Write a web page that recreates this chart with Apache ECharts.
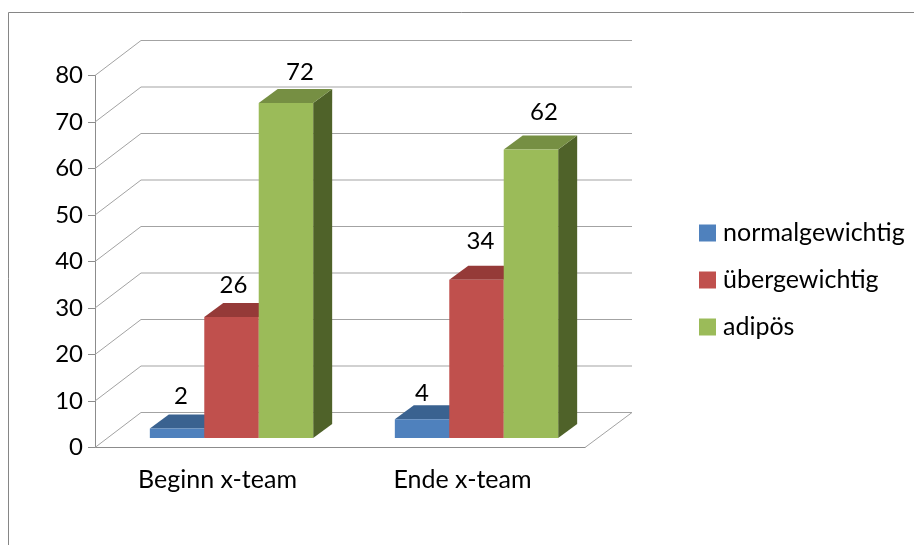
<!DOCTYPE html>
<html>
<head>
<meta charset="utf-8">
<style>html,body{margin:0;padding:0;background:#fff}#c{width:914px;height:545px}</style>
<script src="https://cdn.jsdelivr.net/npm/echarts@6/dist/echarts.min.js"></script>
</head>
<body>
<div id="c"></div>
<script>
var categories = ['Beginn x-team', 'Ende x-team'];
var normalgewichtig = [2, 4];
var uebergewichtig = [26, 34];
var adipoes = [72, 62];
var seriesNames = ['normalgewichtig', 'übergewichtig', 'adipös'];
var yTicks = [0, 10, 20, 30, 40, 50, 60, 70, 80];

var FONT = 'Lato, Carlito, Calibri, sans-serif';
var FS = 25, FS_NUM = 24;
var GRID_COLOR = '#a3a3a3', AXIS_COLOR = '#8c8c8c';
var WALL_DX = 47, WALL_DY = 35;
var FRONT_DX = 14, FRONT_DY = 9.6;
var BAR_DX = 19, BAR_DY = 14;
var palette = [
  {front: '#4F81BD', top: '#3A6290', side: '#2F4F75'},
  {front: '#C0504D', top: '#953A38', side: '#6F2B29'},
  {front: '#9BBB59', top: '#768F43', side: '#4F6229'}
];
// manual nudges of the data labels, by series then category
var labelNudge = [
  [[4, -32], [0, -26]],
  [[2, -32], [4, -39]],
  [[14, -31], [13, -37]]
];

function barSeries(name, values, k) {
  return {
    type: 'custom',
    name: name,
    coordinateSystem: 'cartesian2d',
    silent: true,
    z: 5 + k,
    itemStyle: {color: palette[k].front},
    encode: {x: 0, y: 1},
    data: values.map(function (v, i) { return [i, v]; }),
    renderItem: function (params, api) {
      var cat = api.value(0), val = api.value(1);
      var band = api.size([1, 0])[0];
      var w = band / 4.5;
      var base = api.coord([cat, 0]);
      var topPt = api.coord([cat, val]);
      var x0 = base[0] - 1.5 * w + k * w + FRONT_DX;
      var x1 = x0 + w;
      var y0 = base[1] - FRONT_DY;
      var y1 = topPt[1] - FRONT_DY;
      var c = palette[k];
      var n = labelNudge[k][params.dataIndex];
      return {
        type: 'group',
        children: [
          {type: 'polygon', shape: {points: [[x1, y1], [x1 + BAR_DX, y1 - BAR_DY], [x1 + BAR_DX, y0 - BAR_DY], [x1, y0]]}, style: {fill: c.side}},
          {type: 'polygon', shape: {points: [[x0, y1], [x0 + BAR_DX, y1 - BAR_DY], [x1 + BAR_DX, y1 - BAR_DY], [x1, y1]]}, style: {fill: c.top}},
          {type: 'rect', shape: {x: x0, y: y1, width: w, height: y0 - y1}, style: {fill: c.front}},
          {type: 'text', z2: 50, style: {text: String(val), x: (x0 + x1) / 2 + n[0], y: y1 + n[1], fill: '#000', font: FS_NUM + 'px ' + FONT, textAlign: 'center', textVerticalAlign: 'middle'}}
        ]
      };
    }
  };
}

var wallSeries = {
  type: 'custom',
  coordinateSystem: 'cartesian2d',
  silent: true,
  z: 1,
  encode: {y: 0},
  data: yTicks.map(function (v) { return [v]; }),
  renderItem: function (params, api) {
    var v = api.value(0);
    var rect = params.coordSys;
    var y = api.coord([0, v])[1];
    var left = rect.x, right = rect.x + rect.width;
    var pts = [[left, y], [left + WALL_DX - 1, y - WALL_DY], [right + WALL_DX, y - WALL_DY]];
    if (v === 0) { pts.push([right, y]); }
    return {type: 'polyline', shape: {points: pts}, style: {fill: 'none', stroke: GRID_COLOR, lineWidth: 1}};
  }
};

var chart = echarts.init(document.getElementById('c'), null, {renderer: 'canvas'});
chart.setOption({
  animation: false,
  backgroundColor: '#fff',
  grid: {left: 95, top: 75.5, width: 490, height: 372},
  legend: {
    orient: 'vertical',
    left: 699,
    top: 218,
    padding: 0,
    itemWidth: 17,
    itemHeight: 17,
    itemGap: 17,
    icon: 'rect',
    selectedMode: false,
    data: seriesNames,
    textStyle: {fontFamily: FONT, fontSize: FS, color: '#000', lineHeight: 30, padding: [0, 0, 0, 2]}
  },
  xAxis: {
    type: 'category',
    data: categories,
    axisLine: {lineStyle: {color: AXIS_COLOR, width: 1}},
    axisTick: {length: 7, lineStyle: {color: AXIS_COLOR}},
    axisLabel: {color: '#000', fontFamily: FONT, fontSize: FS, margin: 20},
    splitLine: {show: false}
  },
  yAxis: {
    type: 'value',
    min: 0,
    max: 80,
    interval: 10,
    axisLine: {show: true, lineStyle: {color: AXIS_COLOR, width: 1}},
    axisTick: {show: true, length: 7, lineStyle: {color: AXIS_COLOR}},
    axisLabel: {color: '#000', fontFamily: FONT, fontSize: FS_NUM, margin: 12, padding: [4, 0, 0, 0]},
    splitLine: {show: false}
  },
  graphic: [{
    type: 'polyline',
    silent: true,
    shape: {points: [[8.5, 545], [8.5, 12.5], [914, 12.5]]},
    style: {fill: 'none', stroke: '#868686', lineWidth: 1}
  }],
  series: [
    wallSeries,
    barSeries(seriesNames[0], normalgewichtig, 0),
    barSeries(seriesNames[1], uebergewichtig, 1),
    barSeries(seriesNames[2], adipoes, 2)
  ]
});
</script>
</body>
</html>
